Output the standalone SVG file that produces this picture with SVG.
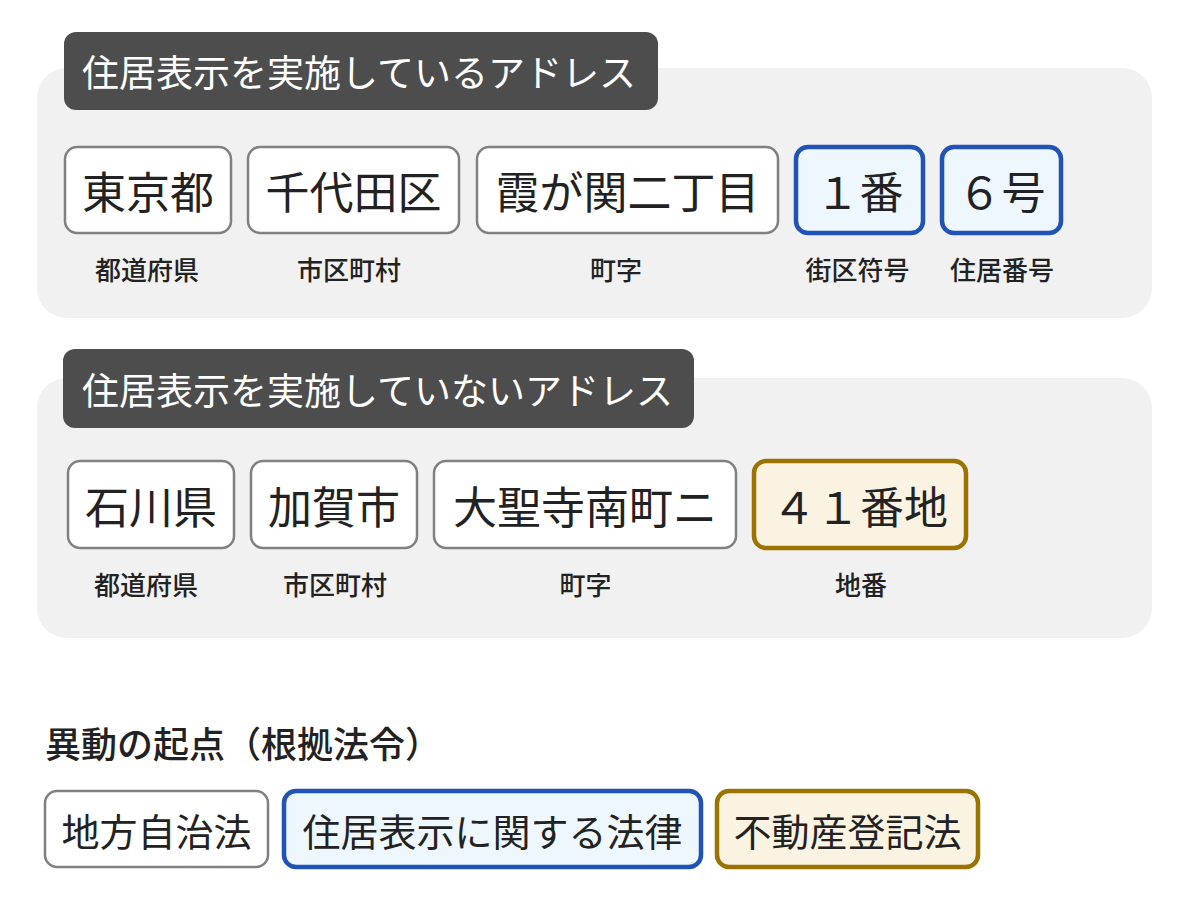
<svg xmlns="http://www.w3.org/2000/svg" width="1190" height="921" viewBox="0 0 1190 921">
<style>
text{font-family:"Noto Sans CJK JP","Noto Sans CJK SC",sans-serif;dominant-baseline:central;fill:#222}
.panel{fill:#f1f1f1}
.tab{fill:#4d4d4d}
.tabt{fill:#fff;font-size:37px}
.box{fill:#fff;stroke:#808080;stroke-width:2.5}
.blue{fill:#eef6fe;stroke:#2152b5;stroke-width:4.5}
.gold{fill:#faf3e2;stroke:#9a7300;stroke-width:4.5}
.bt{font-size:44px;text-anchor:middle}
.lb{font-size:26px;text-anchor:middle;font-weight:500}
.ht{font-size:36px;font-weight:500}
.lt{font-size:38px;text-anchor:middle}
</style>
<rect width="1190" height="921" fill="#fff"/>
<g id="section1">
<rect class="panel" x="37" y="68" width="1115" height="250" rx="30"/>
<rect class="tab" x="64" y="32" width="594" height="78" rx="12"/>
<text class="tabt" x="82" y="71">住居表示を実施しているアドレス</text>
</g>
<g id="n-tokyo"><rect class="box" x="65" y="147" width="166" height="86" rx="12"/><text class="bt" x="148" y="190">東京都</text><text class="lb" x="147" y="268">都道府県</text></g>
<g id="n-chiyoda"><rect class="box" x="248" y="147" width="211" height="86" rx="12"/><text class="bt" x="353.5" y="190">千代田区</text><text class="lb" x="349" y="268">市区町村</text></g>
<g id="n-kasumigaseki"><rect class="box" x="477" y="147" width="301" height="86" rx="12"/><text class="bt" x="627.5" y="190">霞が関二丁目</text><text class="lb" x="616" y="268">町字</text></g>
<g id="n-1ban"><rect class="blue" x="796" y="147" width="127" height="86" rx="12"/><text class="bt" x="859.5" y="190">１番</text><text class="lb" x="857.5" y="268">街区符号</text></g>
<g id="n-6go"><rect class="blue" x="942" y="147" width="119" height="86" rx="12"/><text class="bt" x="1001.5" y="190">６号</text><text class="lb" x="1002" y="268">住居番号</text></g>
<g id="section2">
<rect class="panel" x="37" y="378" width="1115" height="260" rx="30"/>
<rect class="tab" x="63" y="349" width="631" height="79" rx="12"/>
<text class="tabt" x="82" y="389">住居表示を実施していないアドレス</text>
</g>
<g id="n-ishikawa"><rect class="box" x="68" y="461" width="166" height="87" rx="12"/><text class="bt" x="151" y="505">石川県</text><text class="lb" x="146" y="583">都道府県</text></g>
<g id="n-kaga"><rect class="box" x="251" y="461" width="166" height="87" rx="12"/><text class="bt" x="334" y="505">加賀市</text><text class="lb" x="335" y="583">市区町村</text></g>
<g id="n-daishoji"><rect class="box" x="434" y="461" width="302" height="87" rx="12"/><text class="bt" x="585" y="505">大聖寺南町ニ</text><text class="lb" x="585.5" y="583">町字</text></g>
<g id="n-41banchi"><rect class="gold" x="754" y="461" width="212" height="87" rx="12"/><text class="bt" x="860" y="505">４１番地</text><text class="lb" x="861" y="583">地番</text></g>
<g id="legend">
<text class="ht" x="45" y="742">異動の起点（根拠法令）</text>
</g>
<g id="n-chihou"><rect class="box" x="45" y="791" width="223" height="76" rx="12"/><text class="lt" x="156.5" y="829">地方自治法</text></g>
<g id="n-jukyo"><rect class="blue" x="284" y="791" width="417" height="76" rx="12"/><text class="lt" x="492.5" y="829">住居表示に関する法律</text></g>
<g id="n-fudosan"><rect class="gold" x="717" y="791" width="261" height="76" rx="12"/><text class="lt" x="847.5" y="829">不動産登記法</text></g>
<g id="connectors"></g>
</svg>
